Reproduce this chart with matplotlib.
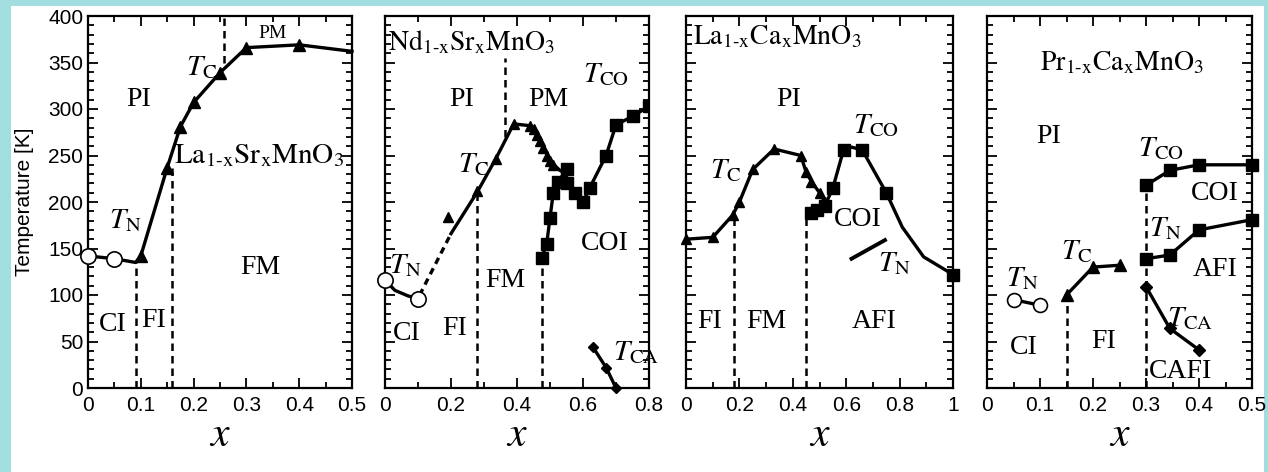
import matplotlib
matplotlib.use("Agg")
import matplotlib.pyplot as plt
from matplotlib.patches import Rectangle
from matplotlib.ticker import MultipleLocator, FuncFormatter

plt.rcParams['mathtext.fontset'] = 'stix'
plt.rcParams['font.family'] = ['Liberation Sans', 'DejaVu Sans']

# ---- La1-xSrxMnO3 ----
lsmo_curve_x = [0, 0.05, 0.09, 0.1, 0.15, 0.175, 0.2, 0.25, 0.3, 0.4, 0.5]
lsmo_curve_y = [142, 139, 135, 142, 237, 281, 307, 339, 366, 369, 362]
lsmo_tn_x = [0, 0.05]
lsmo_tn_y = [142, 139]
lsmo_tc_x = [0.1, 0.15, 0.175, 0.2, 0.25, 0.3, 0.4]
lsmo_tc_y = [142, 237, 281, 307, 339, 366, 369]
lsmo_dash = [(0.09, 0, 135), (0.16, 0, 240), (0.258, 350, 400)]

# ---- Nd1-xSrxMnO3 ----
nsmo_tn_curve_x = [0, 0.03, 0.07, 0.1]
nsmo_tn_curve_y = [116, 105, 99, 96]
nsmo_tn_x = [0, 0.1]
nsmo_tn_y = [116, 96]
nsmo_gap_x = [0.105, 0.2]
nsmo_gap_y = [100, 166]
nsmo_tc_curve_x = [0.2, 0.28, 0.335, 0.39, 0.44, 0.47, 0.5, 0.53, 0.55]
nsmo_tc_curve_y = [166, 211, 246, 284, 282, 266, 244, 234, 230]
nsmo_tc_x = [0.19, 0.28, 0.335, 0.39, 0.44, 0.45, 0.46, 0.47, 0.48, 0.49, 0.50, 0.51]
nsmo_tc_y = [184, 212, 246, 284, 282, 278, 272, 266, 258, 250, 244, 240]
nsmo_tco_x = [0.475, 0.49, 0.50, 0.51, 0.525, 0.55, 0.55, 0.575, 0.6, 0.62, 0.67, 0.70, 0.75, 0.80]
nsmo_tco_y = [140, 155, 183, 210, 222, 235, 220, 210, 200, 215, 250, 283, 292, 303]
nsmo_tca_x = [0.63, 0.67, 0.70]
nsmo_tca_y = [44, 22, 0]
nsmo_dash = [(0.28, 0, 210), (0.365, 270, 355), (0.475, 0, 140)]

# ---- La1-xCaxMnO3 ----
lcmo_tc_x = [0, 0.1, 0.175, 0.2, 0.25, 0.33, 0.43, 0.45, 0.47, 0.5, 0.52]
lcmo_tc_y = [160, 162, 186, 200, 235, 257, 250, 232, 222, 210, 200]
lcmo_tco_curve_x = [0.47, 0.49, 0.52, 0.55, 0.59, 0.62, 0.66, 0.75, 0.81, 0.89, 1.0]
lcmo_tco_curve_y = [188, 191, 196, 215, 256, 259, 256, 210, 173, 141, 122]
lcmo_tco_x = [0.47, 0.49, 0.52, 0.55, 0.59, 0.66, 0.75, 1.0]
lcmo_tco_y = [188, 191, 196, 215, 256, 256, 210, 122]
lcmo_tn_x = [0.62, 0.745]
lcmo_tn_y = [139, 159]
lcmo_dash = [(0.18, 0, 186), (0.45, 0, 188)]

# ---- Pr1-xCaxMnO3 ----
pcmo_tn1_x = [0.05, 0.1]
pcmo_tn1_y = [95, 89]
pcmo_tc_x = [0.15, 0.2, 0.25]
pcmo_tc_y = [100, 130, 132]
pcmo_tco_x = [0.3, 0.345, 0.4, 0.5]
pcmo_tco_y = [218, 234, 240, 240]
pcmo_tn2_x = [0.3, 0.345, 0.4, 0.5]
pcmo_tn2_y = [139, 143, 170, 181]
pcmo_tca_x = [0.3, 0.345, 0.4]
pcmo_tca_y = [109, 64, 41]
pcmo_dash = [(0.15, 0, 100), (0.3, 0, 218)]

W, H = 1268, 472
fig = plt.figure(figsize=(W / 100, H / 100), dpi=100)
fig.patch.set_facecolor('#a2dee0')
fig.patches.append(Rectangle((11 / W, 0), (1264 - 11) / W, 466 / H,
                             transform=fig.transFigure, facecolor='white',
                             edgecolor='none', zorder=-10))

lefts = [88, 385, 686, 987]
rights = [352, 649, 953, 1252]
top, bottom = 16, 388
axes = []
for l, r in zip(lefts, rights):
    ax = fig.add_axes([l / W, (H - bottom) / H, (r - l) / W, (bottom - top) / H])
    ax.patch.set_alpha(0)
    axes.append(ax)

LW = 2.4
serif = dict(family='Liberation Serif', fontsize=20, color='black')


def fmt(v, pos):
    if abs(v) < 1e-9:
        return '0'
    if abs(v - 1) < 1e-9:
        return '1'
    return '%.1f' % v


def style(ax, xmax, major, minor, ylabels):
    ax.set_xlim(0, xmax)
    ax.set_ylim(0, 400)
    ax.xaxis.set_major_locator(MultipleLocator(major))
    ax.xaxis.set_minor_locator(MultipleLocator(minor))
    ax.yaxis.set_major_locator(MultipleLocator(50))
    ax.yaxis.set_minor_locator(MultipleLocator(10))
    ax.xaxis.set_major_formatter(FuncFormatter(fmt))
    ax.tick_params(which='both', direction='in', top=True, right=True,
                   width=1.3, labelsize=15)
    ax.tick_params(which='major', length=7)
    ax.tick_params(which='minor', length=4)
    ax.tick_params(axis='x', pad=6)
    if not ylabels:
        ax.tick_params(axis='y', labelleft=False)
    for s in ax.spines.values():
        s.set_linewidth(1.6)
    ax.set_xlabel('$x$', fontsize=30, labelpad=0)


def dashes(ax, lst):
    for x, y0, y1 in lst:
        ax.plot([x, x], [y0, y1], color='black', ls=(0, (3, 2)), lw=1.8)


def tri(ax, x, y, ms=8):
    ax.plot(x, y, ls='none', marker='^', color='black', ms=ms, clip_on=False, zorder=4)


def sq(ax, x, y, ms=9):
    ax.plot(x, y, ls='none', marker='s', color='black', ms=ms, clip_on=False, zorder=4)


def ring(ax, x, y):
    ax.plot(x, y, ls='none', marker='o', mfc='white', mec='black', mew=1.2,
            ms=11, clip_on=False, zorder=5)


# panel 1
ax = axes[0]
style(ax, 0.5, 0.1, 0.05, True)
ax.set_ylabel('Temperature [K]', fontsize=15, labelpad=10)
ax.plot(lsmo_curve_x, lsmo_curve_y, color='black', lw=LW, clip_on=False)
tri(ax, lsmo_tc_x, lsmo_tc_y)
ring(ax, lsmo_tn_x, lsmo_tn_y)
dashes(ax, lsmo_dash)
ax.text(0.095, 310, 'PI', ha='center', va='center', **serif)
ax.text(0.185, 345, '$T_{\\mathrm{C}}$', ha='left', va='center', fontsize=21)
ax.text(0.35, 381, 'PM', ha='center', va='center', family='Liberation Serif', fontsize=14)
ax.text(0.163, 250, '$\\mathrm{La_{1\\text{-}x}Sr_{x}MnO_{3}}$', ha='left', va='center', fontsize=21)
ax.text(0.04, 180, '$T_{\\mathrm{N}}$', ha='left', va='center', fontsize=21)
ax.text(0.326, 130, 'FM', ha='center', va='center', **serif)
ax.text(0.046, 68, 'CI', ha='center', va='center', **serif)
ax.text(0.125, 73, 'FI', ha='center', va='center', **serif)

# panel 2
ax = axes[1]
style(ax, 0.8, 0.2, 0.1, False)
ax.plot(nsmo_tn_curve_x, nsmo_tn_curve_y, color='black', lw=LW)
ax.plot(nsmo_gap_x, nsmo_gap_y, color='black', lw=LW, ls=(0, (2, 1.5)))
ax.plot(nsmo_tc_curve_x, nsmo_tc_curve_y, color='black', lw=LW)
tri(ax, nsmo_tc_x, nsmo_tc_y, ms=7)
ax.plot(nsmo_tco_x, nsmo_tco_y, color='black', lw=LW, marker='s', ms=8, zorder=4)
ax.plot(nsmo_tca_x, nsmo_tca_y, color='black', lw=LW, marker='D', ms=5, clip_on=False)
ring(ax, nsmo_tn_x, nsmo_tn_y)
dashes(ax, nsmo_dash)
ax.text(0.01, 372, '$\\mathrm{Nd_{1\\text{-}x}Sr_{x}MnO_{3}}$', ha='left', va='center', fontsize=20)
ax.text(0.6, 338, '$T_{\\mathrm{CO}}$', ha='left', va='center', fontsize=21)
ax.text(0.232, 310, 'PI', ha='center', va='center', **serif)
ax.text(0.495, 310, 'PM', ha='center', va='center', **serif)
ax.text(0.22, 241, '$T_{\\mathrm{C}}$', ha='left', va='center', fontsize=21)
ax.text(0.667, 155, 'COI', ha='center', va='center', **serif)
ax.text(0.012, 132, '$T_{\\mathrm{N}}$', ha='left', va='center', fontsize=21)
ax.text(0.364, 116, 'FM', ha='center', va='center', **serif)
ax.text(0.066, 59, 'CI', ha='center', va='center', **serif)
ax.text(0.212, 64, 'FI', ha='center', va='center', **serif)
ax.text(0.69, 39, '$T_{\\mathrm{CA}}$', ha='left', va='center', fontsize=21)

# panel 3
ax = axes[2]
style(ax, 1.0, 0.2, 0.1, False)
ax.plot(lcmo_tc_x, lcmo_tc_y, color='black', lw=LW, marker='^', ms=7, clip_on=False)
ax.plot(lcmo_tco_curve_x, lcmo_tco_curve_y, color='black', lw=LW, clip_on=False)
sq(ax, lcmo_tco_x, lcmo_tco_y)
ax.plot(lcmo_tn_x, lcmo_tn_y, color='black', lw=LW + 0.4)
dashes(ax, lcmo_dash)
ax.text(0.025, 378, '$\\mathrm{La_{1\\text{-}x}Ca_{x}MnO_{3}}$', ha='left', va='center', fontsize=20)
ax.text(0.383, 310, 'PI', ha='center', va='center', **serif)
ax.text(0.625, 283, '$T_{\\mathrm{CO}}$', ha='left', va='center', fontsize=21)
ax.text(0.09, 234, '$T_{\\mathrm{C}}$', ha='left', va='center', fontsize=21)
ax.text(0.642, 181, 'COI', ha='center', va='center', **serif)
ax.text(0.72, 134, '$T_{\\mathrm{N}}$', ha='left', va='center', fontsize=21)
ax.text(0.09, 71, 'FI', ha='center', va='center', **serif)
ax.text(0.302, 71, 'FM', ha='center', va='center', **serif)
ax.text(0.704, 71, 'AFI', ha='center', va='center', **serif)

# panel 4
ax = axes[3]
style(ax, 0.5, 0.1, 0.05, False)
ax.plot(pcmo_tn1_x, pcmo_tn1_y, color='black', lw=LW, marker='o', mfc='white',
        mec='black', mew=1.2, ms=10)
ax.plot(pcmo_tc_x, pcmo_tc_y, color='black', lw=LW, marker='^', ms=8)
ax.plot(pcmo_tco_x, pcmo_tco_y, color='black', lw=LW, marker='s', ms=9, clip_on=False)
ax.plot(pcmo_tn2_x, pcmo_tn2_y, color='black', lw=LW, marker='s', ms=8, clip_on=False)
ax.plot(pcmo_tca_x, pcmo_tca_y, color='black', lw=LW, marker='D', ms=6)
dashes(ax, pcmo_dash)
ax.text(0.1, 350, '$\\mathrm{Pr_{1\\text{-}x}Ca_{x}MnO_{3}}$', ha='left', va='center', fontsize=20)
ax.text(0.116, 270, 'PI', ha='center', va='center', **serif)
ax.text(0.285, 258, '$T_{\\mathrm{CO}}$', ha='left', va='center', fontsize=21)
ax.text(0.43, 209, 'COI', ha='center', va='center', **serif)
ax.text(0.305, 172, '$T_{\\mathrm{N}}$', ha='left', va='center', fontsize=21)
ax.text(0.43, 127, 'AFI', ha='center', va='center', **serif)
ax.text(0.14, 147, '$T_{\\mathrm{C}}$', ha='left', va='center', fontsize=21)
ax.text(0.035, 118, '$T_{\\mathrm{N}}$', ha='left', va='center', fontsize=21)
ax.text(0.34, 75, '$T_{\\mathrm{CA}}$', ha='left', va='center', fontsize=21)
ax.text(0.07, 44, 'CI', ha='center', va='center', **serif)
ax.text(0.22, 50, 'FI', ha='center', va='center', **serif)
ax.text(0.365, 18, 'CAFI', ha='center', va='center', **serif)

fig.savefig('out.png', dpi=100, facecolor=fig.get_facecolor())
